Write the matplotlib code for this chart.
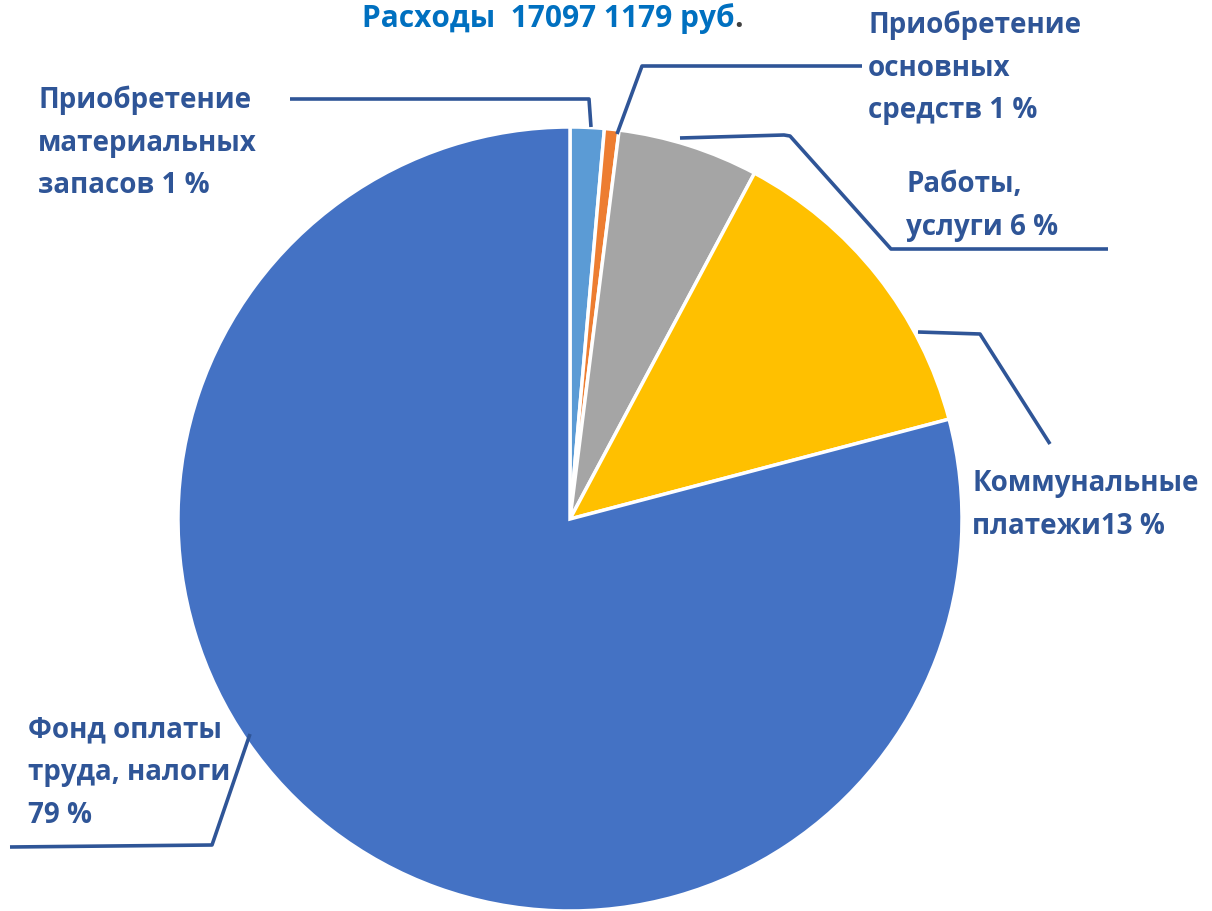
import matplotlib
matplotlib.use("Agg")
import matplotlib.pyplot as plt

plt.rcParams['font.family'] = ['Open Sans', 'DejaVu Sans']

# data (percent of total expenses), clockwise from 12 o'clock
categories = ["Приобретение материальных запасов", "Приобретение основных средств",
              "Работы, услуги", "Коммунальные платежи", "Фонд оплаты труда, налоги"]
shares = [1.4, 0.6, 5.8, 13.1, 79.1]
colors = ["#5B9BD5", "#ED7D31", "#A5A5A5", "#FFC000", "#4472C4"]
labels = ["Приобретение\nматериальных\nзапасов 1 %",
          "Приобретение\nосновных\nсредств 1 %",
          "Работы,\nуслуги 6 %",
          "Коммунальные\nплатежи13 %",
          "Фонд оплаты\nтруда, налоги\n79 %"]
title = "Расходы  17097 1179 руб"

W, H = 1212, 912
label_color = "#2F5597"

fig = plt.figure(figsize=(W / 100, H / 100), dpi=100)
ax = fig.add_axes([0, 0, 1, 1])


def py(y):
    # pixel rows measured from the top -> data y
    return H - y


ax.pie(shares, colors=colors, startangle=90, counterclock=False,
       center=(570, py(520)), radius=392,
       wedgeprops=dict(edgecolor="white", linewidth=2.5))
ax.set_xlim(0, W)
ax.set_ylim(0, H)
ax.set_aspect('equal')
ax.axis('off')

# label positions (left edge, vertical centre of text block) and leader paths
label_pos = [(38, 143), (868, 68), (906, 206), (972, 505), (28, 773)]
leaders = [
    [(290, 100), (589, 100), (591, 128)],
    [(862, 67), (642, 67), (617, 135)],
    [(680, 139), (784, 136), (790, 137), (891, 250), (1108, 250)],
    [(918, 333), (980, 335), (1050, 445)],
    [(250, 735), (212, 846), (10, 848)],
]

for lab, (x, y), path in zip(labels, label_pos, leaders):
    ax.text(x, py(y), lab, ha='left', va='center', fontsize=20, fontweight='bold',
            color=label_color, linespacing=1.62)
    xs = [p[0] for p in path]
    ys = [py(p[1]) for p in path]
    ax.plot(xs, ys, color=label_color, lw=2.6, solid_capstyle='butt')

t = ax.text(362, py(27), title, ha='left', va='baseline', fontsize=21.5,
            fontweight='bold', color="#0070C0")
fig.canvas.draw()
bb = t.get_window_extent()
ax.text(bb.x1, py(27), ".", ha='left', va='baseline', fontsize=21.5,
        fontweight='bold', color="#404040")

fig.savefig("out.png", dpi=100)
